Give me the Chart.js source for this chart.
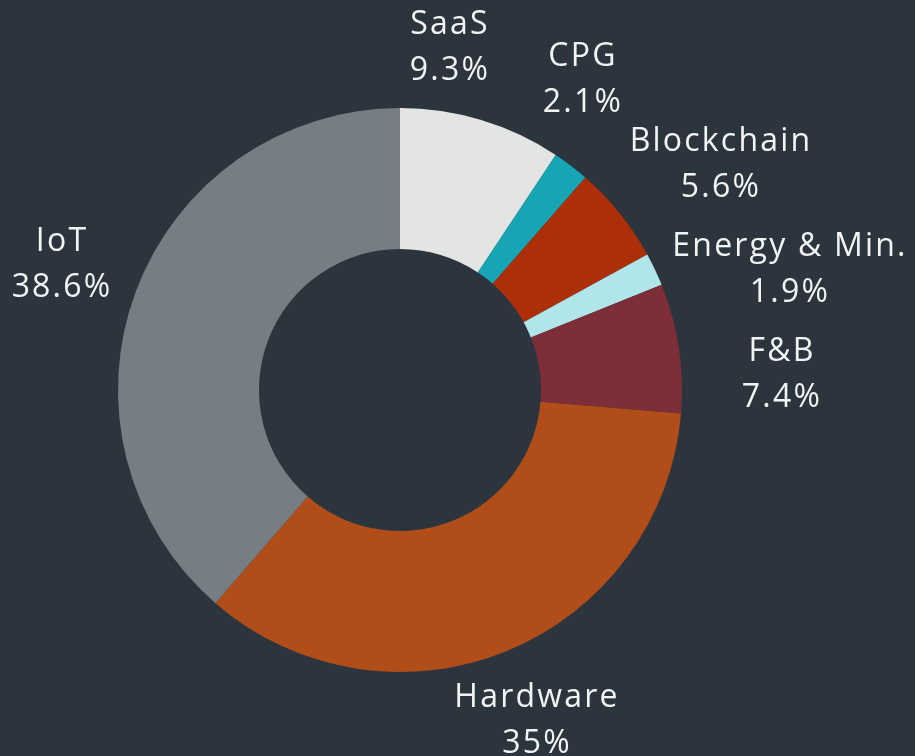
<!DOCTYPE html>
<html>
<head>
<meta charset="utf-8">
<script src="https://cdn.jsdelivr.net/npm/chart.js@4"></script>
<style>
  html, body { margin: 0; padding: 0; background: #2c343e; }
  #wrap { width: 915px; height: 756px; }
</style>
</head>
<body>
<div id="wrap"><canvas id="c" width="915" height="756"></canvas></div>
<script>
const categories = ["SaaS", "CPG", "Blockchain", "Energy & Min.", "F&B", "Hardware", "IoT"];
const values = [9.3, 2.1, 5.6, 1.9, 7.4, 35, 38.6];
const valueLabels = ["9.3%", "2.1%", "5.6%", "1.9%", "7.4%", "35%", "38.6%"];

const colors = ["#e2e5e2", "#16a5b4", "#ad2f07", "#b0e5ea", "#7d2e38", "#b04d19", "#777e83"];
// label anchor offsets from the doughnut centre (px)
const labelOffsets = [[50, -342], [183, -310], [321, -225], [390, -120], [382, -15], [137, 331], [-338, -125]];

const labelPlugin = {
  id: 'outerLabels',
  afterDatasetsDraw(chart) {
    const ctx = chart.ctx;
    const arc = chart.getDatasetMeta(0).data[0];
    const cx = arc.x, cy = arc.y;
    ctx.save();
    ctx.fillStyle = '#f2f4f4';
    ctx.font = '32px "Open Sans"';
    if ('letterSpacing' in ctx) ctx.letterSpacing = '2.2px';
    ctx.textAlign = 'center';
    ctx.textBaseline = 'middle';
    categories.forEach((cat, i) => {
      const [dx, dy] = labelOffsets[i];
      const x = cx + dx, y = cy + dy;
      ctx.fillText(cat, x, y - 23);
      ctx.fillText(valueLabels[i], x, y + 23);
    });
    ctx.restore();
  }
};

new Chart(document.getElementById('c'), {
  type: 'doughnut',
  data: {
    labels: categories,
    datasets: [{
      data: values,
      backgroundColor: colors,
      borderWidth: 0,
      cutout: '50%'
    }]
  },
  options: {
    responsive: false,
    animation: false,
    layout: { padding: { left: 118, right: 233, top: 108, bottom: 84 } },
    plugins: { legend: { display: false }, tooltip: { enabled: false } }
  },
  plugins: [labelPlugin]
});
</script>
</body>
</html>
